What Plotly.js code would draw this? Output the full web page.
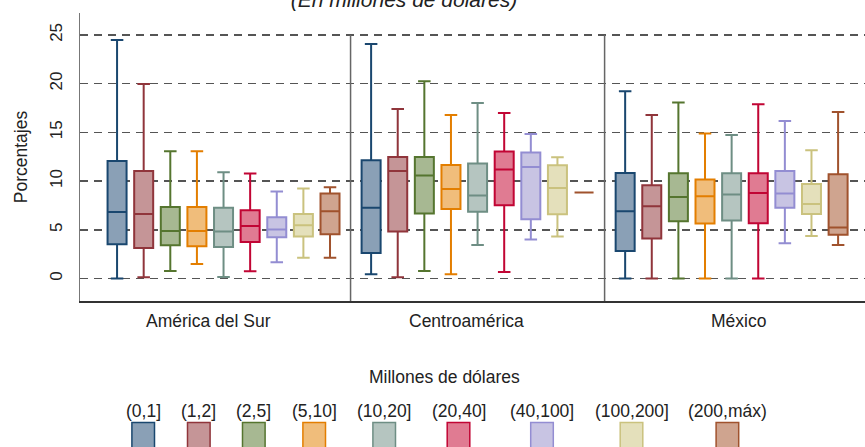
<!DOCTYPE html>
<html>
<head>
<meta charset="utf-8">
<script src="https://cdn.plot.ly/plotly-3.0.1.min.js"></script>
<style>html,body{margin:0;padding:0;background:#fff;}#chart{width:865px;height:447px;}</style>
</head>
<body>
<div id="chart"></div>
<script>
// ---- Data ----
var regions = ["América del Sur", "Centroamérica", "México"];
var sizeClasses = ["(0,1]", "(1,2]", "(2,5]", "(5,10]", "(10,20]", "(20,40]", "(40,100]", "(100,200]", "(200,máx)"];

// América del Sur
var sur_lo  = [0.0, 0.13, 0.78, 1.5, 0.17, 0.75, 1.67, 2.15, 2.15];
var sur_q1  = [3.52, 3.14, 3.42, 3.31, 3.24, 3.76, 4.24, 4.31, 4.55];
var sur_med = [6.84, 6.63, 4.88, 4.88, 4.82, 5.4, 5.03, 5.47, 6.91];
var sur_q3  = [12.07, 11.04, 7.35, 7.35, 7.28, 7.01, 6.29, 6.63, 8.72];
var sur_hi  = [24.49, 19.97, 13.06, 13.06, 10.91, 10.77, 8.93, 9.24, 9.37];

// Centroamérica
var cen_lo  = [0.44, 0.13, 0.78, 0.44, 3.45, 0.68, 4.0, 4.31, 8.83];
var cen_q1  = [2.63, 4.82, 6.67, 7.14, 6.87, 7.52, 6.09, 6.6, 8.83];
var cen_med = [7.28, 11.04, 10.57, 9.2, 8.52, 11.19, 11.45, 9.3, 8.83];
var cen_q3  = [12.14, 12.48, 12.48, 11.66, 11.8, 13.03, 12.93, 11.63, 8.83];
var cen_hi  = [24.08, 17.4, 20.25, 16.79, 18.02, 17.0, 14.84, 12.45, 8.83];

// México
var mex_lo  = [0.0, 0.0, 0.0, 0.0, 0.0, 0.0, 3.62, 4.37, 3.45];
var mex_q1  = [2.83, 4.1, 5.88, 5.64, 5.95, 5.67, 7.28, 6.63, 4.51];
var mex_med = [6.91, 7.42, 8.37, 8.45, 8.62, 8.78, 8.72, 7.66, 5.23];
var mex_q3  = [10.84, 9.57, 10.81, 10.16, 10.81, 10.81, 11.04, 9.71, 10.7];
var mex_hi  = [19.22, 16.79, 18.06, 14.88, 14.74, 17.89, 16.17, 13.17, 17.1];

var yTickVals = [0, 5, 10, 15, 20, 25];
var yTickText = ["0", "5", "10", "15", "20", "25"];

// ---- Styles ----
var lineColors = ["#1a476f", "#90353b", "#55752f", "#e37e00", "#6e8e84", "#c10534", "#938dd2", "#cac27e", "#a0522d"];
var fillColors = ["#8aa0b6", "#c59597", "#a7b892", "#f0bd7b", "#b5c5c0", "#e07b92", "#c8c4e3", "#e4e0bb", "#cfa48f"];
var FONT = "Liberation Sans, Arial, sans-serif";

var W = 865, H = 447, ML = 80, MR = 0, MT = 13, MB = 146;
var PW = W - ML - MR, PH = H - MT - MB;
function px2x(px) { return (px - ML) / PW; }
function py2y(py) { return (H - MB - py) / PH; }

var traces = [];
for (var k = 0; k < sizeClasses.length; k++) {
  traces.push({
    type: "box",
    name: sizeClasses[k],
    x: regions,
    lowerfence: [sur_lo[k], cen_lo[k], mex_lo[k]],
    q1: [sur_q1[k], cen_q1[k], mex_q1[k]],
    median: [sur_med[k], cen_med[k], mex_med[k]],
    q3: [sur_q3[k], cen_q3[k], mex_q3[k]],
    upperfence: [sur_hi[k], cen_hi[k], mex_hi[k]],
    boxpoints: false,
    line: { color: lineColors[k], width: 2 },
    fillcolor: fillColors[k],
    whiskerwidth: 0.66,
    showlegend: false,
    hoverinfo: "skip"
  });
}

var annotations = [];
// Region labels
var regionPx = [208.8, 466.7, 738.3];
for (var r = 0; r < regions.length; r++) {
  annotations.push({
    xref: "paper", yref: "paper", x: px2x(regionPx[r]), y: py2y(320.7),
    xanchor: "center", yanchor: "middle", showarrow: false,
    text: regions[r], font: { family: FONT, size: 17.5, color: "#222" }
  });
}
// Legend title
annotations.push({
  xref: "paper", yref: "paper", x: px2x(444.7), y: py2y(376.5),
  xanchor: "center", yanchor: "middle", showarrow: false,
  text: "Millones de dólares", font: { family: FONT, size: 17.5, color: "#222" }
});
// Legend items
var legPx = [143.2, 198.8, 253.8, 314.2, 384.2, 458.5, 542, 631.5, 727.4];
var shapes = [];
for (var i = 0; i < sizeClasses.length; i++) {
  annotations.push({
    xref: "paper", yref: "paper", x: px2x(legPx[i]), y: py2y(411),
    xanchor: "center", yanchor: "middle", showarrow: false,
    text: sizeClasses[i], font: { family: FONT, size: 17.5, color: "#222" }
  });
  shapes.push({
    type: "rect", xref: "paper", yref: "paper",
    x0: px2x(legPx[i] - 11.3), x1: px2x(legPx[i] + 11.3),
    y0: py2y(422.5), y1: py2y(470),
    fillcolor: fillColors[i], line: { color: lineColors[i], width: 1.5 }
  });
}
// Panel dividers
[0.5, 1.5].forEach(function (xv) {
  shapes.push({
    type: "line", xref: "x", yref: "y", x0: xv, x1: xv, y0: -2.3, y1: 25,
    line: { color: "#666", width: 1.5 }, layer: "above"
  });
});

var layout = {
  width: W, height: H,
  margin: { l: ML, r: MR, t: MT, b: MB, pad: 0 },
  paper_bgcolor: "#ffffff", plot_bgcolor: "#ffffff",
  title: {
    text: "(En millones de dólares)",
    font: { family: FONT, size: 21, style: "italic", color: "#222" },
    xref: "container", yref: "container",
    x: 404 / W, xanchor: "center",
    y: 1 - 6.5 / H, yanchor: "bottom"
  },
  boxmode: "group",
  boxgap: 0.057,
  boxgroupgap: 0.286,
  showlegend: false,
  xaxis: {
    type: "category",
    categoryorder: "array", categoryarray: regions,
    range: [-0.565, 2.525],
    showticklabels: false, ticks: "",
    showgrid: false, zeroline: false,
    showline: true, linecolor: "#333", linewidth: 1.5,
    fixedrange: true
  },
  yaxis: {
    range: [-2.3, 27.25],
    tickvals: yTickVals, ticktext: yTickText,
    tickangle: -90,
    ticks: "",
    ticklabelstandoff: 10,
    tickfont: { family: FONT, size: 17, color: "#222" },
    showgrid: true, gridcolor: "#555", gridwidth: 1.3, griddash: "8px,6px",
    zeroline: false,
    showline: true, linecolor: "#777", linewidth: 1.5,
    title: { text: "Porcentajes", font: { family: FONT, size: 17.5, color: "#222" }, standoff: 14 },
    fixedrange: true
  },
  annotations: annotations,
  shapes: shapes
};

Plotly.newPlot("chart", traces, layout, { staticPlot: true, displayModeBar: false });
</script>
</body>
</html>
